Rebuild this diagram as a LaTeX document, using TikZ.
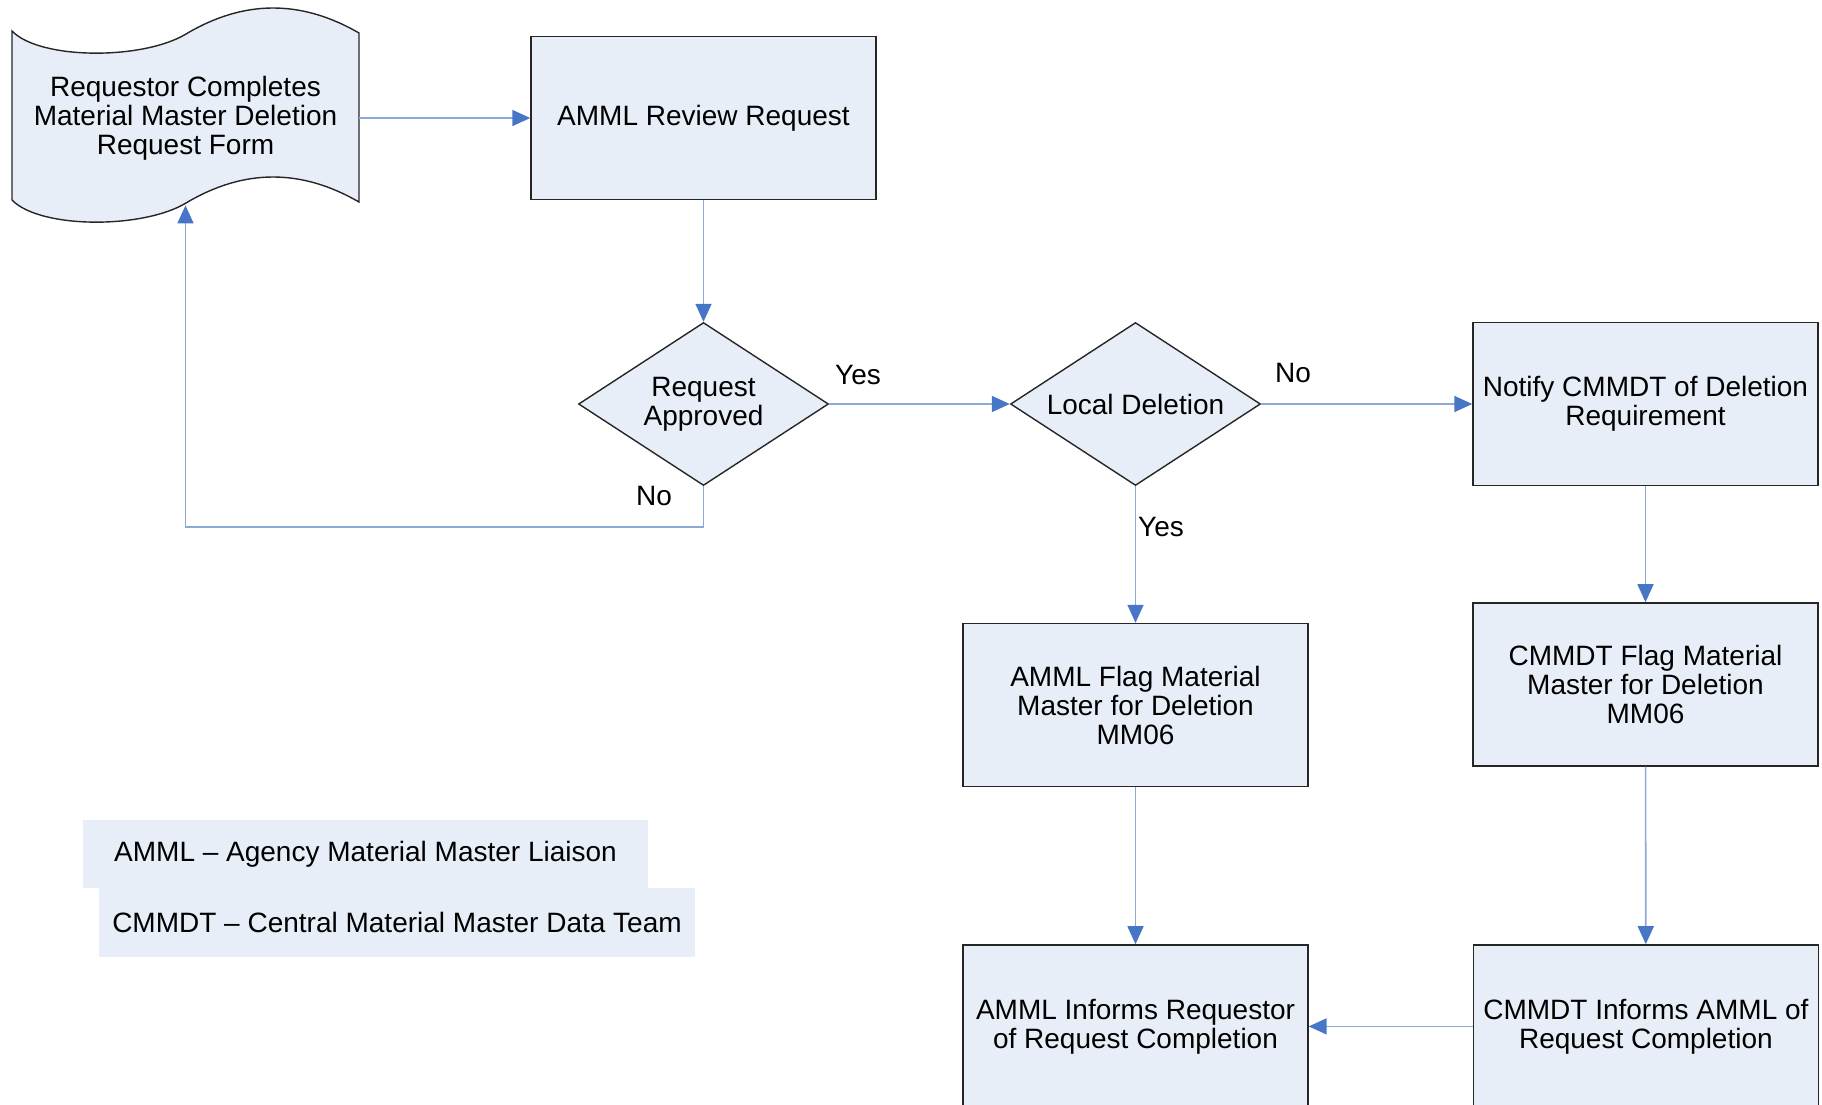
\documentclass[tikz,border=0pt]{standalone}
\usepackage{fontspec}
\setmainfont{Liberation Sans}
\usetikzlibrary{shapes.geometric,arrows.meta,positioning}
\definecolor{boxfill}{HTML}{E8EEF7}
\definecolor{linkblue}{HTML}{8DA9DA}
\definecolor{tipblue}{HTML}{4676C5}

\begin{document}
\begin{tikzpicture}[x=0.5pt, y=-0.5pt,
	txt/.style  = {align=center, inner sep=0pt, font=\fontsize{14}{14.5}\selectfont},
	rec/.style  = {txt, draw=black!85, line width=0.7pt, fill=boxfill},
	task/.style = {rec, rectangle, minimum width=172.5pt, minimum height=81.5pt},
	decision/.style = {rec, diamond, aspect=1.5, minimum width=125pt, minimum height=81.5pt},
	doc/.style  = {txt, rectangle, minimum width=173pt, minimum height=87pt},
	note/.style = {txt, rectangle, fill=boxfill, minimum height=34pt},
	lbl/.style  = {txt},
	link/.style = {->, draw=linkblue, line width=0.8pt},
	>={Triangle[length=9pt, width=8pt, color=tipblue]}]

	\useasboundingbox (0,0) rectangle (1822,1104);

	% the request form, drawn as a document shape
	\draw[draw=black!85, line width=0.7pt, fill=boxfill]
		(12,31) .. controls (40,60) and (143,60) .. (186,34)
		.. controls (244,-0.5) and (301,-0.5) .. (359,33) -- (359,202)
		.. controls (301,168.5) and (244,168.5) .. (186,203)
		.. controls (143,229) and (40,229) .. (12,200) -- cycle;
	\node[doc] (req) at (185.5,118) {Requestor Completes\\Material Master Deletion\\Request Form};

	% review and the two decisions
	\node[task] (review) at (703.5,118) {AMML Review Request};
	\node[decision] (ra) at (703.5,404) {Request\\Approved};
	\node[decision] (ld) at (1135.5,404) {Local Deletion};
	\node[task] (notify) at (1645.5,404) {Notify CMMDT of Deletion\\Requirement};

	% flagging and completion, relatively positioned
	\node[task, below=68.3pt of ld] (flagL) {AMML Flag Material\\Master for Deletion\\MM06};
	\node[task, below=58pt of notify] (flagC) {CMMDT Flag Material\\Master for Deletion\\MM06};
	\node[task, below=78.5pt of flagL] (infL) {AMML Informs Requestor\\of Request Completion};
	\node[task, right=82pt of infL] (infC) {CMMDT Informs AMML of\\Request Completion};

	% branch labels
	\node[lbl] (yes1) at (858,375) {Yes};
	\node[lbl] (no1) at (654,496) {No};
	\node[lbl] (no2) at (1293,373) {No};
	\node[lbl] (yes2) at (1161,527) {Yes};

	% legend
	\node[note, minimum width=282.5pt] (amml) at (365.5,854) {AMML \textendash{} Agency Material Master Liaison};
	\node[note, minimum width=298pt, minimum height=34.5pt] (cmmdt) at (397,922.5) {CMMDT \textendash{} Central Material Master Data Team};

	% straight connectors
	\foreach \from/\to in {req/review, review/ra, ra/ld, ld/notify, ld/flagL, notify/flagC, flagL/infL, flagC/infC, infC/infL}
	\draw[link] (\from) -- (\to);

	% rejected requests go back to the form
	\coordinate (back) at (185.5,527);
	\draw[link] (ra.south) |- (back) -- (req.south);
\end{tikzpicture}
\end{document}
